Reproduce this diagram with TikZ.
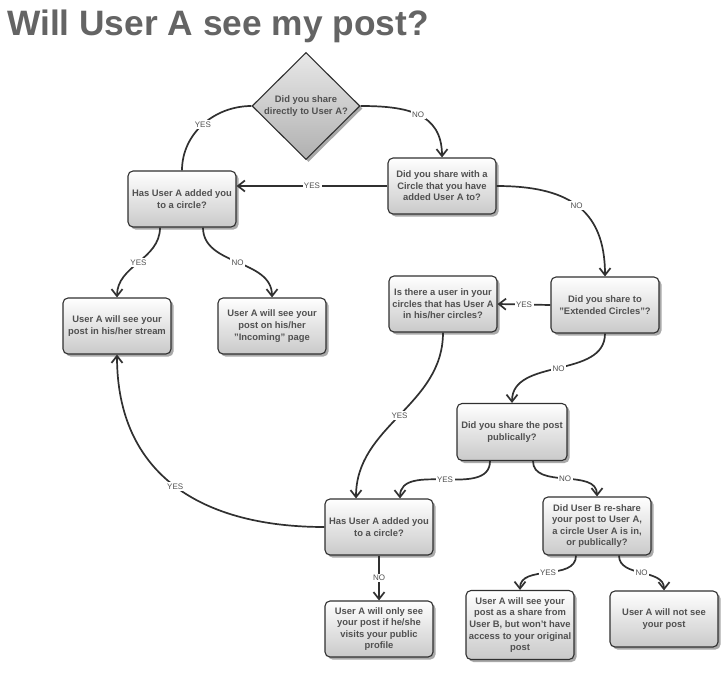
\documentclass[tikz,border=0pt]{standalone}
\usepackage{fontspec}
\setmainfont{Liberation Sans}
\usepackage{xcolor}
\usetikzlibrary{shapes,arrows.meta,shadows,positioning}
\definecolor{titlegray}{HTML}{646464}
\definecolor{textgray}{HTML}{505050}
\definecolor{linegray}{HTML}{303030}
\begin{document}
\begin{tikzpicture}[x=1pt,y=1pt,
  box/.style={draw=linegray, line width=1.1pt, rounded corners=5pt, top color=white, bottom color=gray!42,
    minimum width=108pt, minimum height=56pt, align=center, inner sep=2pt, text=textgray,
    font=\bfseries\fontsize{9.4}{11.6}\selectfont,
    drop shadow={shadow xshift=2.5pt, shadow yshift=-2.5pt, fill=gray!85, opacity=0.8}},
  ask/.style={diamond, draw=linegray, line width=1.1pt, top color=gray!18, bottom color=gray!62,
    minimum width=108pt, minimum height=107pt, aspect=1, inner sep=0pt, align=center, text=textgray,
    font=\bfseries\fontsize{9.4}{11.6}\selectfont,
    drop shadow={shadow xshift=2.5pt, shadow yshift=-2.5pt, fill=gray!85, opacity=0.8}},
  link/.style={draw=linegray, line width=1.7pt},
  arr/.style={link, -{Straight Barb[length=7pt,width=11pt]}},
  lbl/.style={fill=white, inner sep=1.5pt, text=textgray, font=\fontsize{8}{9}\selectfont}]
\useasboundingbox (0,0) rectangle (728,-672);

\node[anchor=base west, inner sep=0pt, text=titlegray, font=\bfseries\fontsize{35.3}{40}\selectfont] (title) at (7,-35) {Will User A see my post?};

\node[ask] (direct) at (306,-106) {Did you share\\directly to User A?};
\node[box] (added1) at (182,-199) {Has User A added you\\to a circle?};
\node[box] (circle) at (442,-186) {Did you share with a\\Circle that you have\\added User A to?};
\node[box] (stream) at (117,-326) {User A will see your\\post in his/her stream};
\node[box] (incoming) at (272,-326) {User A will see your\\post on his/her\\"Incoming" page};
\node[box] (extended) at (605,-305) {Did you share to\\"Extended Circles"?};
\node[box] (intheir) at (443,-304) {Is there a user in your\\circles that has User A\\in his/her circles?};
\node[box, minimum width=110pt, minimum height=57pt] (public) at (512,-432) {Did you share the post\\publically?};
\node[box] (added2) at (379,-527) {Has User A added you\\to a circle?};
\node[box, minimum height=58pt] (reshare) at (597,-526) {Did User B re-share\\your post to User A,\\a circle User A is in,\\or publically?};
\node[box] (profile) at (379,-629) {User A will only see\\your post if he/she\\visits your public\\profile};
\node[box, minimum height=69pt] (fromB) at (520,-625) {User A will see your\\post as a share from\\User B, but won't have\\access to your original\\post};
\node[box] (notsee) at (664,-619) {User A will not see\\your post};

\draw[link] (direct.west) to[out=180,in=90] node[lbl] {YES} (added1.north);
\draw[arr] (direct.east) to[out=0,in=90,looseness=1.2] node[lbl] {NO} (circle.north);
\draw[arr] (circle.west) -- (circle.west -| added1.east) node[lbl,midway] {YES};
\draw[arr] ([xshift=-22pt]added1.south) to[out=-90,in=90] node[lbl] {YES} (stream.north);
\draw[arr] ([xshift=21pt]added1.south) to[out=-90,in=90] node[lbl] {NO} (incoming.north);
\draw[arr] (circle.east) to[out=0,in=90,looseness=1.25] node[lbl] {NO} (extended.north);
\draw[arr] (extended.west) -- (intheir.east) node[lbl,midway] {YES};
\draw[arr] (extended.south) to[out=-90,in=90] node[lbl] {NO} (public.north);
\draw[arr] (intheir.south) to[out=-90,in=90] node[lbl] {YES} ([xshift=-23pt]added2.north);
\draw[arr] ([xshift=-22pt]public.south) to[out=-90,in=90] node[lbl] {YES} ([xshift=21pt]added2.north);
\draw[arr] ([xshift=21pt]public.south) to[out=-90,in=90] node[lbl] {NO} (reshare.north);
\draw[arr] (added2.west) to[out=180,in=-90,looseness=1.15] node[lbl] {YES} (stream.south);
\draw[arr] (added2.south) -- (profile.north) node[lbl,midway] {NO};
\draw[arr] ([xshift=-21pt]reshare.south) to[out=-90,in=90] node[lbl] {YES} (fromB.north);
\draw[arr] ([xshift=22pt]reshare.south) to[out=-90,in=90] node[lbl] {NO} (notsee.north);
\end{tikzpicture}
\end{document}
